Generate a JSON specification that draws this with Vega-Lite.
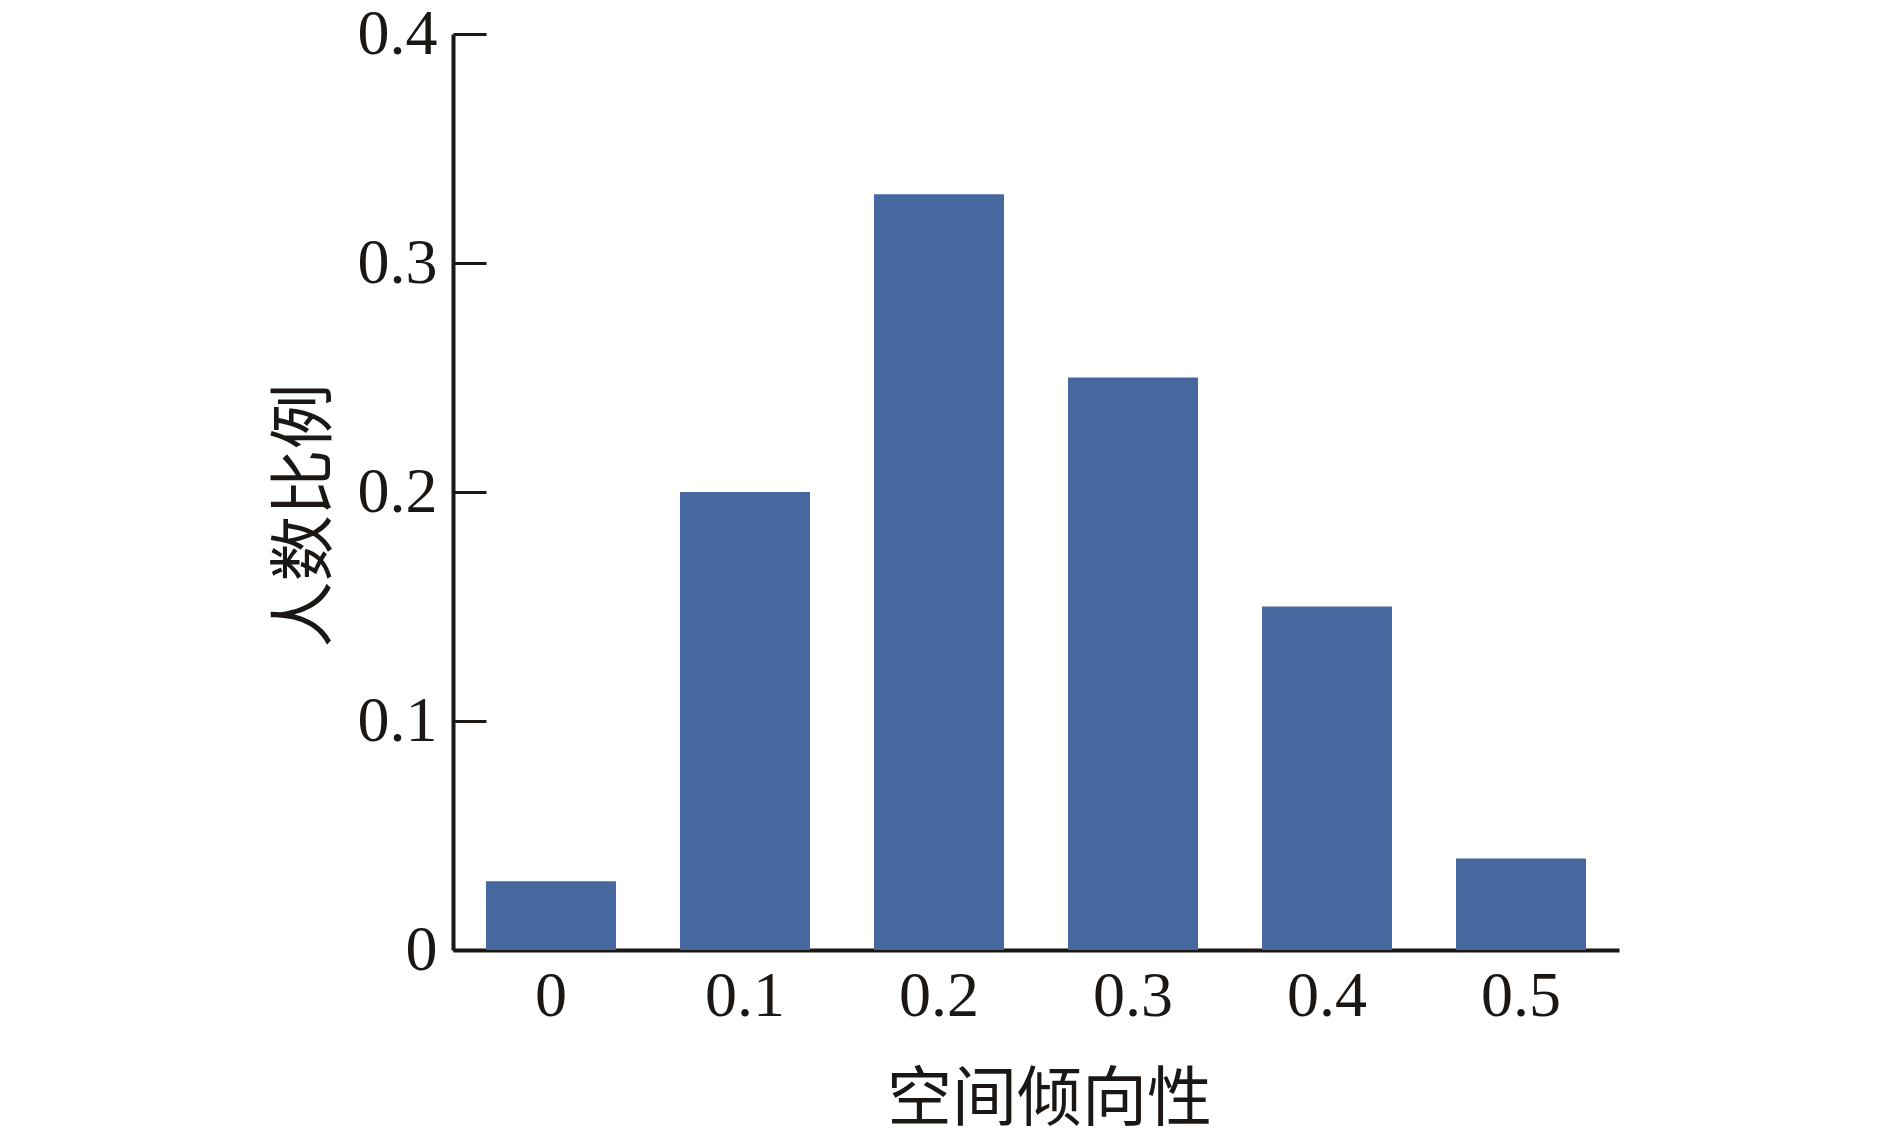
{
  "$schema": "https://vega.github.io/schema/vega-lite/v6.json",
  "width": 1166,
  "height": 916,
  "autosize": {"type": "none"},
  "padding": {"left": 453, "top": 34, "right": 271, "bottom": 190},
  "background": "white",
  "data": {
    "values": [
      {"x": "0", "ratio": 0.03},
      {"x": "0.1", "ratio": 0.2},
      {"x": "0.2", "ratio": 0.33},
      {"x": "0.3", "ratio": 0.25},
      {"x": "0.4", "ratio": 0.15},
      {"x": "0.5", "ratio": 0.04}
    ]
  },
  "mark": {"type": "bar", "color": "#47689e"},
  "encoding": {
    "x": {
      "field": "x",
      "type": "ordinal",
      "sort": null,
      "scale": {"paddingInner": 0.33, "paddingOuter": 0.17},
      "axis": {
        "title": "空间倾向性",
        "labelAngle": 0,
        "ticks": false,
        "labelPadding": 14,
        "titlePadding": 40,
        "titleFontSize": 65,
        "titleX": 596
      }
    },
    "y": {
      "field": "ratio",
      "type": "quantitative",
      "scale": {"domain": [0, 0.4], "nice": false},
      "axis": {
        "title": "人数比例",
        "values": [0, 0.1, 0.2, 0.3, 0.4],
        "format": "~g",
        "grid": false,
        "tickSize": -33,
        "tickWidth": 3,
        "labelPadding": 49,
        "titlePadding": 18,
        "titleFontSize": 66,
        "titleY": 481
      }
    }
  },
  "config": {
    "view": {"stroke": null},
    "axis": {
      "domainColor": "#1a1714",
      "domainWidth": 4,
      "tickColor": "#1a1714",
      "labelFont": "Liberation Serif",
      "labelFontSize": 64,
      "labelColor": "#1a1714",
      "titleFont": "Noto Sans CJK SC",
      "titleFontWeight": "normal",
      "titleColor": "#1a1714"
    }
  }
}
